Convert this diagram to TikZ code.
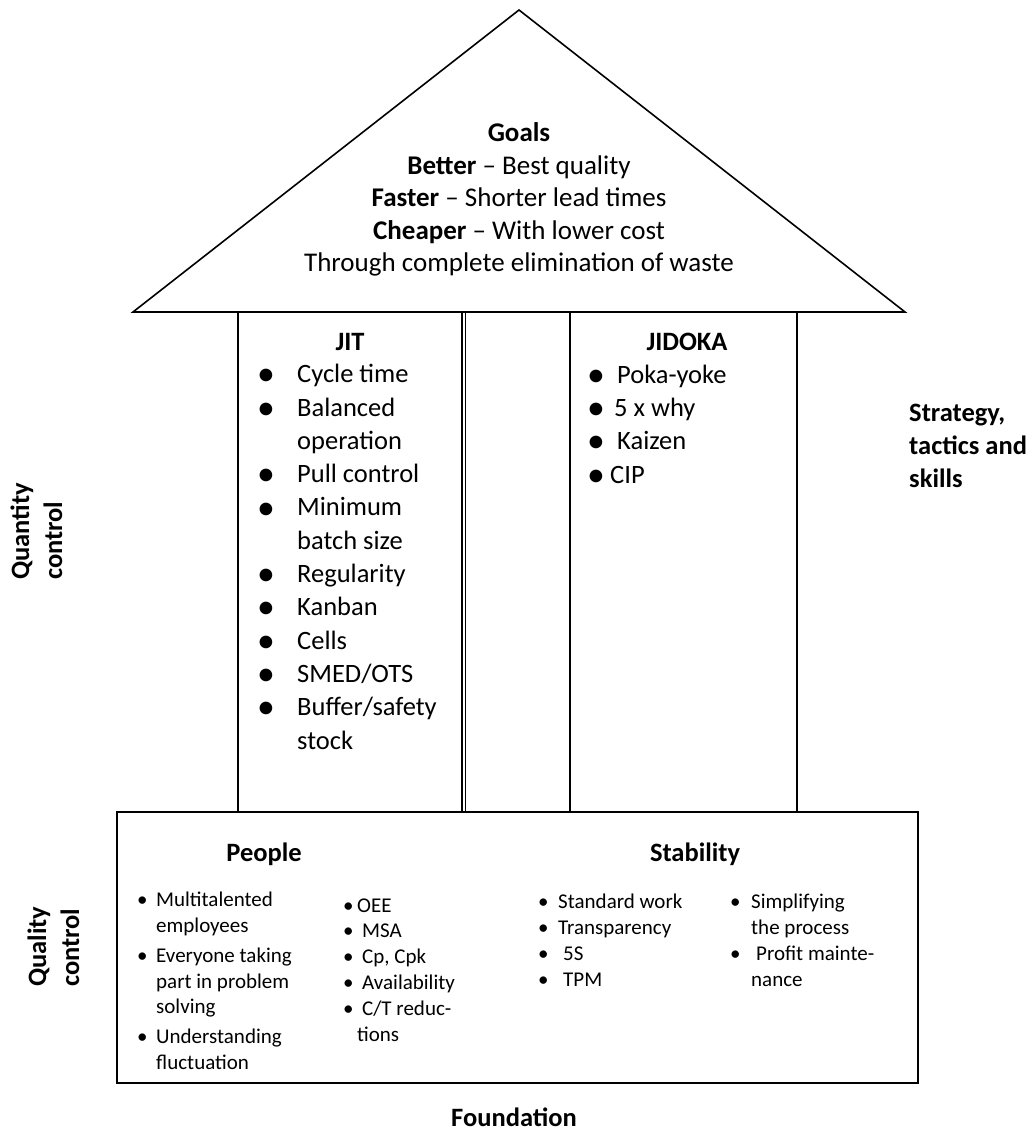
\documentclass[tikz,border=0pt]{standalone}
\usepackage{fontspec}
\setmainfont{Carlito}
% bullets: large ones for the pillars, plain ones for the foundation
\newcommand\pbul[1]{\makebox[#1][l]{\raisebox{-0.12em}{\scalebox{1.35}{•}}}}
\newcommand\fbul[1]{\makebox[#1][l]{•}}
\begin{document}
% multi-line nodes are placed by the baseline of their last line
\begin{tikzpicture}[x=1pt,y=-1pt,
  roof/.style={draw=black, line width=1.6pt, line join=miter},
  wall/.style={draw=black, line width=1.8pt},
  goaltxt/.style={font=\fontsize{27}{32.5}\selectfont, inner sep=0pt, align=center},
  pillartxt/.style={font=\fontsize{26.5}{33.3}\selectfont, inner sep=0pt, align=left},
  labeltxt/.style={font=\fontsize{26.5}{33}\selectfont\bfseries, inner sep=0pt, align=left},
  basetxt/.style={font=\fontsize{21}{25.5}\selectfont, inner sep=0pt, align=left}]
\useasboundingbox (0,0) rectangle (1032,1131);

% roof
\draw[roof] (133,312) -- (519,10) -- (905,312) -- cycle;

% pillars
\draw[wall, line width=2.6pt] (238,312) -- (238,812);
\draw[wall] (462,312) -- (462,812);
\draw[wall, line width=1.4pt] (465.5,312) -- (465.5,812);
\draw[wall] (570,312) -- (570,812);
\draw[wall] (797,312) -- (797,812);

% foundation
\draw[wall] (117,812) rectangle (918,1083);

% goals in the roof
\node[goaltxt, anchor=base] (goals) at (519,272)
  {\textbf{Goals}\\
   \textbf{Better} – Best quality\\
   \textbf{Faster} – Shorter lead times\\
   \textbf{Cheaper} – With lower cost\\
   Through complete elimination of waste};

% JIT pillar
\node[pillartxt, anchor=base] (jit) at (350,350) {\textbf{JIT}};
\node[pillartxt, anchor=base west] (jitlist) at (257,749)
  {\pbul{40pt}Cycle time\\
   \pbul{40pt}Balanced\\
   \hspace*{40pt}operation\\
   \pbul{40pt}Pull control\\
   \pbul{40pt}Minimum\\
   \hspace*{40pt}batch size\\
   \pbul{40pt}Regularity\\
   \pbul{40pt}Kanban\\
   \pbul{40pt}Cells\\
   \pbul{40pt}SMED/OTS\\
   \pbul{40pt}Buffer/safety\\
   \hspace*{40pt}stock};

% JIDOKA pillar
\node[pillartxt, anchor=base] (jidoka) at (687,350) {\textbf{JIDOKA}};
\node[pillartxt, anchor=base west] (jidokalist) at (587,483)
  {\pbul{30pt}Poka-yoke\\
   \pbul{27pt}5 x why\\
   \pbul{30pt}Kaizen\\
   \pbul{23pt}CIP};

% side labels
\node[labeltxt, anchor=base west] (strategy) at (909,487)
  {Strategy,\\tactics and\\skills};
\node[labeltxt, rotate=90, anchor=base west] (quantity) at (62,580)
  {Quantity\\control};
\node[labeltxt, rotate=90, anchor=base west] (quality) at (79,987)
  {Quality\\control};

% foundation: people
\node[labeltxt, anchor=base] (people) at (264,861) {People};
\node[basetxt, anchor=base west] (peoplea) at (137,1069)
  {\fbul{19pt}Multitalented\\
   \hspace*{19pt}employees\\[5pt]
   \fbul{19pt}Everyone taking\\
   \hspace*{19pt}part in problem\\
   \hspace*{19pt}solving\\[4.5pt]
   \fbul{19pt}Understanding\\
   \hspace*{19pt}fluctuation};
\node[basetxt, anchor=base west, font=\fontsize{21}{25.8}\selectfont] (peopleb) at (343,1041)
  {\fbul{14pt}OEE\\
   \fbul{19pt}MSA\\
   \fbul{19pt}Cp, Cpk\\
   \fbul{19pt}Availability\\
   \fbul{19pt}C/T reduc-\\
   \hspace*{14pt}tions};

% foundation: stability
\node[labeltxt, anchor=base] (stability) at (695,861) {Stability};
\node[basetxt, anchor=base west, font=\fontsize{21}{25.7}\selectfont] (stabilitya) at (538,986)
  {\fbul{20pt}Standard work\\
   \fbul{20pt}Transparency\\
   \fbul{25pt}5S\\
   \fbul{25pt}TPM};
\node[basetxt, anchor=base west, font=\fontsize{21}{25.7}\selectfont] (stabilityb) at (730,986)
  {\fbul{21pt}Simplifying\\
   \hspace*{21pt}the process\\
   \fbul{26pt}Profit mainte-\\
   \hspace*{21pt}nance};

% caption below the foundation
\node[labeltxt, anchor=base] (foundation) at (514,1126) {Foundation};
\end{tikzpicture}
\end{document}
